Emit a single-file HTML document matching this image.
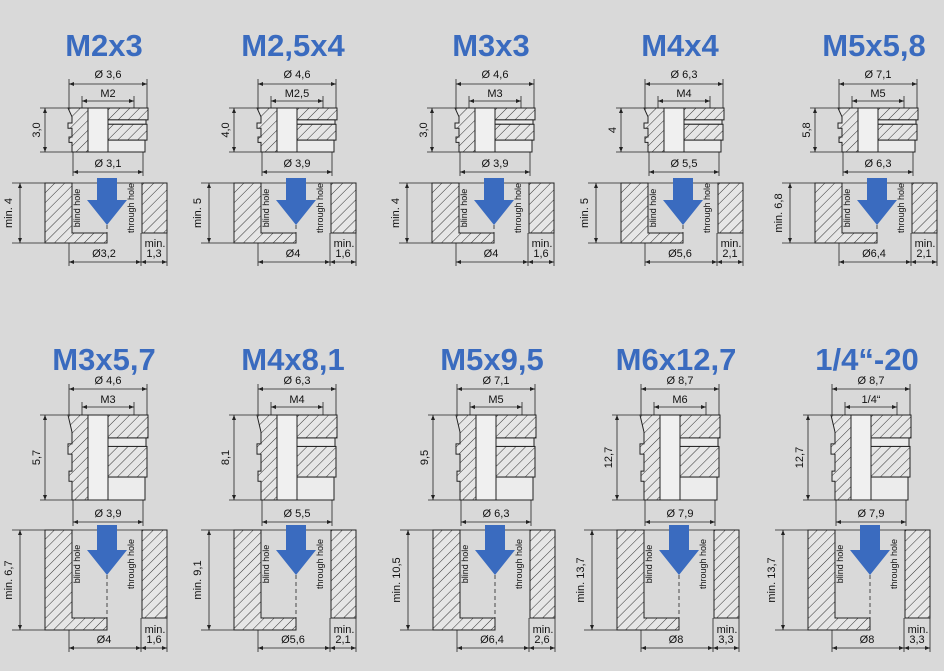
<!DOCTYPE html>
<html><head><meta charset="utf-8">
<style>
html,body{margin:0;padding:0;background:#d9d9d9;}
svg{display:block;font-family:"Liberation Sans",sans-serif;}
.t{font-size:11px;fill:#111;text-anchor:middle;}
.ttl{font-size:31px;font-weight:bold;fill:#3a6bbf;text-anchor:middle;}
.ln{stroke:#222;stroke-width:0.8;fill:none;}
.ol{stroke:#222;stroke-width:1;}
</style></head>
<body>
<svg id="c" width="944" height="671" viewBox="0 0 944 671">
<defs>
<pattern id="h" width="7" height="7" patternUnits="userSpaceOnUse" patternTransform="rotate(45)">
<rect width="7" height="7" fill="#e6e6e6"/><line x1="0" y1="0" x2="0" y2="7" stroke="#333" stroke-width="1"/>
</pattern>
</defs>
</svg>
<script>
const titles=["M2x3","M2,5x4","M3x3","M4x4","M5x5,8","M3x5,7","M4x8,1","M5x9,5","M6x12,7","1/4\u201c-20"];
const outerD=["Ø 3,6","Ø 4,6","Ø 4,6","Ø 6,3","Ø 7,1","Ø 4,6","Ø 6,3","Ø 7,1","Ø 8,7","Ø 8,7"];
const threads=["M2","M2,5","M3","M4","M5","M3","M4","M5","M6","1/4\u201c"];
const heights=["3,0","4,0","3,0","4","5,8","5,7","8,1","9,5","12,7","12,7"];
const bottomD=["Ø 3,1","Ø 3,9","Ø 3,9","Ø 5,5","Ø 6,3","Ø 3,9","Ø 5,5","Ø 6,3","Ø 7,9","Ø 7,9"];
const minDepth=["min. 4","min. 5","min. 4","min. 5","min. 6,8","min. 6,7","min. 9,1","min. 10,5","min. 13,7","min. 13,7"];
const holeD=["Ø3,2","Ø4","Ø4","Ø5,6","Ø6,4","Ø4","Ø5,6","Ø6,4","Ø8","Ø8"];
const wall=["1,3","1,6","1,6","2,1","2,1","1,6","2,1","2,6","3,3","3,3"];
const offs=[0,189,387,576,770,0,189,388,572,763];
const svg=document.getElementById('c');
const NS='http://www.w3.org/2000/svg';
function mk(tag,attrs,parent,text){const e=document.createElementNS(NS,tag);for(const k in attrs)e.setAttribute(k,attrs[k]);if(text!==undefined)e.textContent=text;parent.appendChild(e);return e;}
function line(g,x1,y1,x2,y2,cls){return mk('line',{x1,y1,x2,y2,class:cls||'ln'},g);}
function dimH(g,x1,x2,y){line(g,x1,y,x2,y);mk('path',{d:`M${x1} ${y}l5 -2v4z M${x2} ${y}l-5 -2v4z`,fill:'#222'},g);}
function dimV(g,x,y1,y2){line(g,x,y1,x,y2);mk('path',{d:`M${x} ${y1}l-2 5h4z M${x} ${y2}l-2 -5h4z`,fill:'#222'},g);}
function rtext(g,x,y,s,cls){const t=mk('text',{x,y,class:cls||'t',transform:`rotate(-90 ${x} ${y})`},g,s);return t;}
const rows=[
 {ty:56,odt:78,odl:84,tht:97,thl:101,i0:108,i1:152,bdt:167,bdl:172,b0:183,b1:233,leg:243,arr:225,hdt:257,hdl:262},
 {ty:370,odt:384,odl:389,tht:403,thl:407,i0:415,i1:500,bdt:517,bdl:522,b0:530,b1:618,leg:630,arr:575,hdt:643,hdl:648}
];
for(let i=0;i<10;i++){
 const r=rows[i<5?0:1],o=offs[i];
 const g=mk('g',{transform:`translate(${o},0)`},svg);
 
 
 const tt=mk('text',{x:104,y:r.ty,class:'ttl'},g,titles[i]);
 
 
 // outer diameter
 line(g,69,r.odl-5,69,r.i0);line(g,147,r.odl-5,147,r.i0);
 dimH(g,69,147,r.odl);mk('text',{x:108,y:r.odt,class:'t'},g,outerD[i]);
 line(g,82,r.thl-5,82,r.i0);line(g,134,r.thl-5,134,r.i0);
 dimH(g,82,134,r.thl);mk('text',{x:108,y:r.tht,class:'t'},g,threads[i]);
 // insert body
 const h=r.i1-r.i0,y0=r.i0;
 mk('path',{d:`M68 ${y0}h20v${h}h-16v-${h*0.22}h-3v-${h*0.12}h3v-${h*0.2}h-4v-${h*0.12}h4v-${h*0.14}z`,fill:'url(#h)',class:'ol'},g);
 mk('rect',{x:88,y:y0,width:20,height:h,fill:'#f0f0f0',class:'ol'},g);
 mk('rect',{x:108,y:y0,width:40,height:h*0.27,fill:'url(#h)',class:'ol'},g);
 mk('rect',{x:108,y:y0+h*0.27,width:38,height:h*0.1,fill:'#ececec',class:'ol'},g);
 mk('rect',{x:108,y:y0+h*0.37,width:39,height:h*0.36,fill:'url(#h)',class:'ol'},g);
 mk('rect',{x:108,y:y0+h*0.73,width:37,height:h*0.27,fill:'#ececec',class:'ol'},g);
 line(g,40,y0,68,y0);line(g,40,r.i1,72,r.i1);dimV(g,45,y0,r.i1);
 rtext(g,40,(y0+r.i1)/2,heights[i]);
 // bottom diameter
 line(g,73,r.i1,73,r.bdl+4);line(g,143,r.i1,143,r.bdl+4);
 dimH(g,73,143,r.bdl);mk('text',{x:108,y:r.bdt,class:'t'},g,bottomD[i]);
 // block
 mk('path',{d:`M45 ${r.b0}H72V${r.b1}H107V${r.leg}H45Z`,fill:'url(#h)',class:'ol'},g);
 mk('rect',{x:142,y:r.b0,width:25,height:r.b1-r.b0,fill:'url(#h)',class:'ol'},g);
 line(g,72,r.b0,142,r.b0,'ln');
 rtext(g,80,(r.b0+r.b1)/2+(i<5?0:-10),'blind hole','t').setAttribute('style','font-size:9px');
 rtext(g,134,(r.b0+r.b1)/2+(i<5?0:-10),'through hole','t').setAttribute('style','font-size:9px');
 line(g,107,r.arr,107,r.leg,'ln').setAttribute('stroke-dasharray','4 3');
 const ar=mk('path',{d:`M97 ${r.b0-5}h20v${r.arr-r.b0-20}h10l-20 25l-20 -25h10z`,fill:'#3a6bbf'},g);
 
 
 line(g,12,r.b0,45,r.b0);line(g,12,r.leg,45,r.leg);dimV(g,20,r.b0,r.leg);
 rtext(g,12,(r.b0+r.leg)/2,minDepth[i]);
 line(g,69,r.leg,69,r.hdl+4);line(g,141,r.b1,141,r.hdl+4);line(g,167,r.b1,167,r.hdl+4);
 dimH(g,69,141,r.hdl);mk('text',{x:104,y:r.hdt,class:'t'},g,holeD[i]);
 dimH(g,141,167,r.hdl);
 mk('text',{x:155,y:r.hdt-10,class:'t'},g,'min.');
 mk('text',{x:154,y:r.hdt,class:'t'},g,wall[i]);
}
</script>
</body></html>
